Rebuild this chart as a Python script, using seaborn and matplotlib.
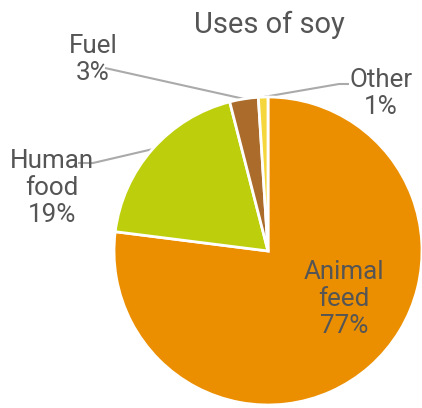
import matplotlib
matplotlib.use("Agg")
import matplotlib.pyplot as plt
import numpy as np
import seaborn as sns

# Shares of soy production by use
categories = ["Animal feed", "Human food", "Fuel", "Other"]
shares = [77, 19, 3, 1]
label_names = ["Animal\nfeed", "Human\nfood", "Fuel", "Other"]
colors = ["#EB8F00", "#BDCF0C", "#AB6B2A", "#F5D63C"]
title = "Uses of soy"

sns.set_theme(style="white")
plt.rcParams["font.family"] = ["Roboto", "DejaVu Sans"]

W, H = 422, 408
fig = plt.figure(figsize=(W / 100, H / 100), dpi=100)
ax = fig.add_axes([0, 0, 1, 1])


def Y(y):
    # pixel row measured from the top -> data y measured from the bottom
    return H - y


cx, cy, r = 268, Y(251), 154
wedges, _ = ax.pie(
    shares,
    colors=colors,
    startangle=90,
    counterclock=False,
    center=(cx, cy),
    radius=r,
    wedgeprops=dict(edgecolor="white", linewidth=2.0),
)
ax.set_xlim(0, W)
ax.set_ylim(0, H)
ax.set_aspect("equal")
ax.axis("off")

text_color = "#555555"
line_color = "#aaaaaa"

ax.text(269, Y(33), title, ha="center", va="baseline", fontsize=21,
        color=text_color)

# label anchor (last-line baseline) and leader path for each slice
label_pos = {
    "Animal feed": (344, 333, None),
    "Human food": (52, 222, [(78, 163), (93, 163)]),
    "Fuel": (93, 80, [(105, 68)]),
    "Other": (381, 114, [(349, 84), (339, 84)]),
}

for w, cat, name, val in zip(wedges, categories, label_names, shares):
    lx, ly, path = label_pos[cat]
    ax.text(lx, Y(ly), f"{name}\n{val}%", ha="center", va="baseline",
            multialignment="center", fontsize=18.7, color=text_color,
            linespacing=1.15)
    if path is not None:
        mid = np.deg2rad((w.theta1 + w.theta2) / 2)
        ex, ey = cx + r * np.cos(mid), cy + r * np.sin(mid)
        xs = [p[0] for p in path] + [ex]
        ys = [Y(p[1]) for p in path] + [ey]
        ax.plot(xs, ys, color=line_color, lw=1.5, solid_capstyle="butt",
                zorder=0.5)

fig.savefig("out.png", dpi=100)
